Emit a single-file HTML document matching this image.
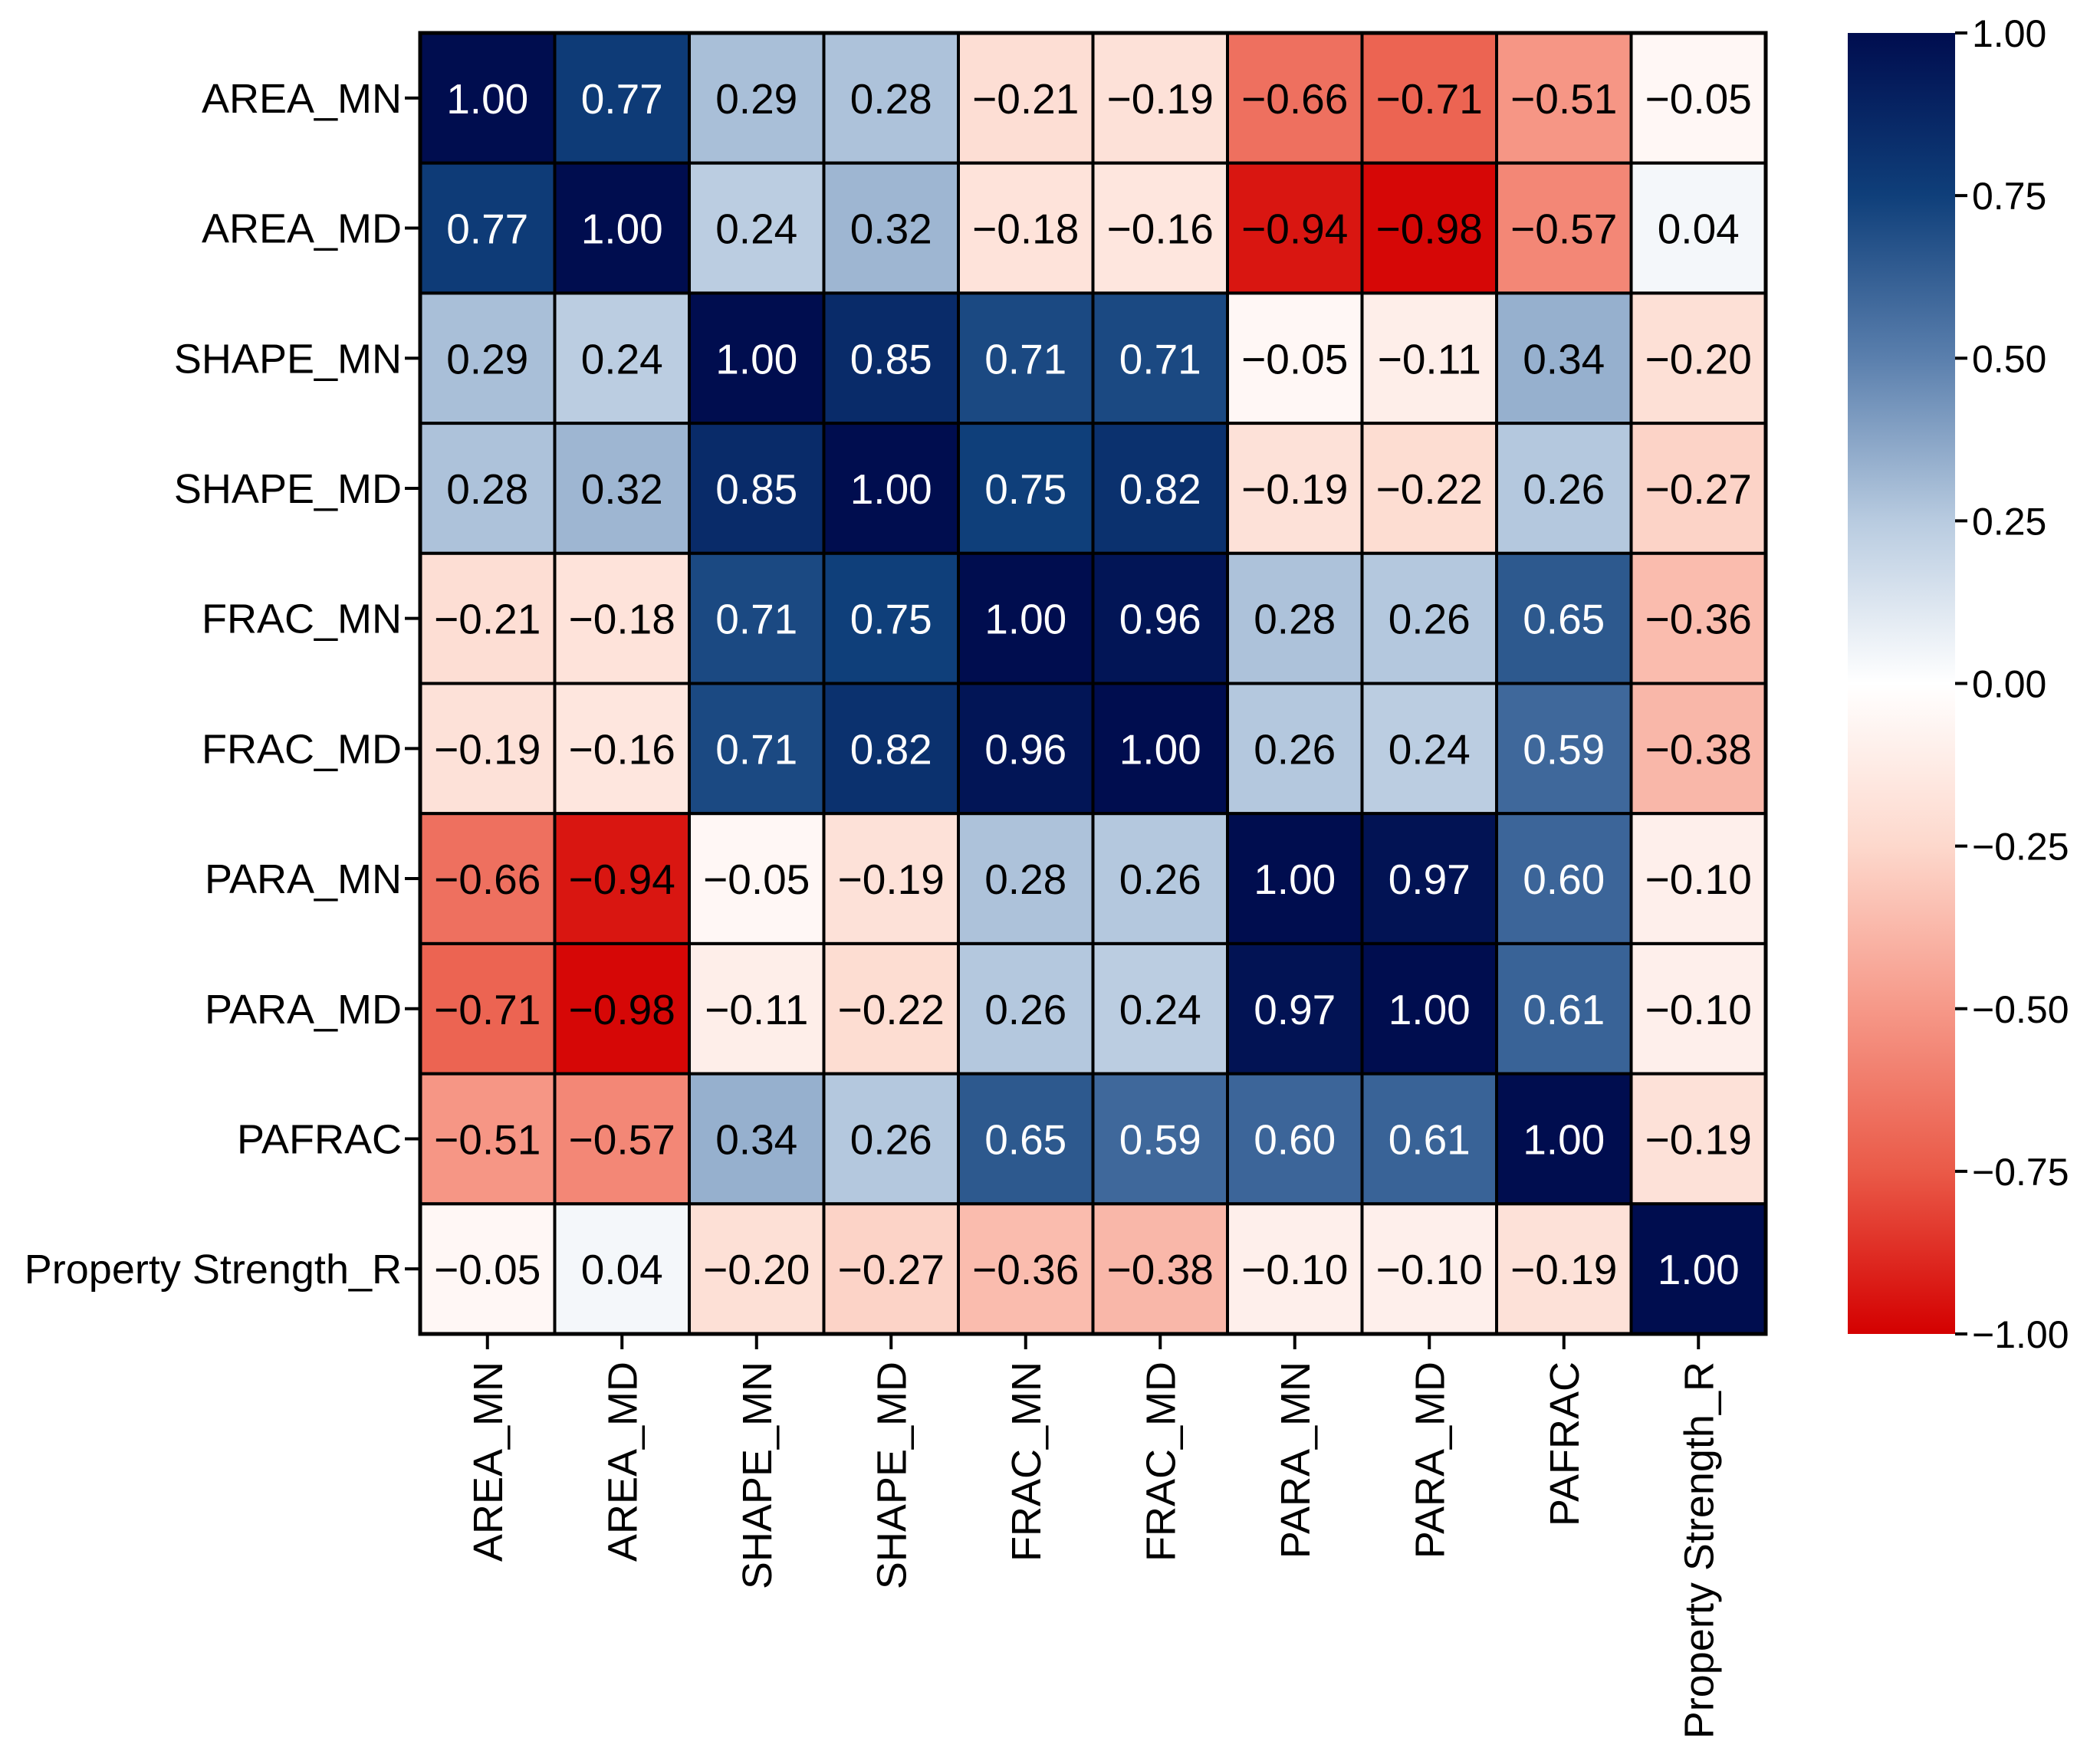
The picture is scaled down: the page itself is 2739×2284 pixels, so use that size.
<!DOCTYPE html>
<html><head><meta charset="utf-8">
<style>
html,body{margin:0;padding:0;background:#fff;}
svg{display:block;}
text{font-family:"Liberation Sans",sans-serif;}
</style></head>
<body>
<svg id="chart" width="2739" height="2284" viewBox="0 0 2739 2284" xmlns="http://www.w3.org/2000/svg">
<defs>
<linearGradient id="cbgrad" x1="0" y1="0" x2="0" y2="1">
<stop offset="0" stop-color="#000d4f"/>
<stop offset="0.125" stop-color="#0f3f7a"/>
<stop offset="0.25" stop-color="#5a7fad"/>
<stop offset="0.375" stop-color="#b8cbe0"/>
<stop offset="0.5" stop-color="#ffffff"/>
<stop offset="0.625" stop-color="#fdd8cc"/>
<stop offset="0.75" stop-color="#f69888"/>
<stop offset="0.875" stop-color="#ea5a48"/>
<stop offset="1" stop-color="#d40000"/>
</linearGradient>
</defs>
<g id="cells"></g>
<g id="labels"></g>
<g id="cbar"></g>
</svg>
<script>
const labels = ["AREA_MN","AREA_MD","SHAPE_MN","SHAPE_MD","FRAC_MN","FRAC_MD","PARA_MN","PARA_MD","PAFRAC","Property Strength_R"];
const xLabels = ["AREA_MN","AREA_MD","SHAPE_MN","SHAPE_MD","FRAC_MN","FRAC_MD","PARA_MN","PARA_MD","PAFRAC","Property Strength_R"];
const row0 = [1.00,0.77,0.29,0.28,-0.21,-0.19,-0.66,-0.71,-0.51,-0.05];
const row1 = [0.77,1.00,0.24,0.32,-0.18,-0.16,-0.94,-0.98,-0.57,0.04];
const row2 = [0.29,0.24,1.00,0.85,0.71,0.71,-0.05,-0.11,0.34,-0.20];
const row3 = [0.28,0.32,0.85,1.00,0.75,0.82,-0.19,-0.22,0.26,-0.27];
const row4 = [-0.21,-0.18,0.71,0.75,1.00,0.96,0.28,0.26,0.65,-0.36];
const row5 = [-0.19,-0.16,0.71,0.82,0.96,1.00,0.26,0.24,0.59,-0.38];
const row6 = [-0.66,-0.94,-0.05,-0.19,0.28,0.26,1.00,0.97,0.60,-0.10];
const row7 = [-0.71,-0.98,-0.11,-0.22,0.26,0.24,0.97,1.00,0.61,-0.10];
const row8 = [-0.51,-0.57,0.34,0.26,0.65,0.59,0.60,0.61,1.00,-0.19];
const row9 = [-0.05,0.04,-0.20,-0.27,-0.36,-0.38,-0.10,-0.10,-0.19,1.00];
const matrix = [row0,row1,row2,row3,row4,row5,row6,row7,row8,row9];
const cbTicks = [1.00,0.75,0.50,0.25,0.00,-0.25,-0.50,-0.75,-1.00];

const NS="http://www.w3.org/2000/svg";
const L=548,R=2303,T=43,B=1740;
const cw=(R-L)/labels.length, ch=(B-T)/labels.length;
const xPos=i=>L+i*cw, yPos=j=>T+j*ch;
const stops=[[-1,[212,0,0]],[-0.75,[234,90,72]],[-0.5,[246,152,136]],[-0.25,[253,216,204]],[0,[255,255,255]],[0.25,[184,203,224]],[0.5,[90,127,173]],[0.75,[15,63,122]],[1,[0,13,79]]];
function color(v){
  for(let k=0;k<stops.length-1;k++){
    const [a,ca]=stops[k],[b,cb]=stops[k+1];
    if(v>=a&&v<=b){const t=(v-a)/(b-a);return 'rgb('+ca.map((c,i)=>Math.round(c+(cb[i]-c)*t)).join(',')+')';}
  }
  return v<0?'rgb(212,0,0)':'rgb(0,13,79)';
}
function el(tag,attrs,parent,txt){const e=document.createElementNS(NS,tag);for(const k in attrs)e.setAttribute(k,attrs[k]);if(txt!==undefined)e.textContent=txt;parent.appendChild(e);return e;}
const fmt=v=>(v<0?'\u2212':'')+Math.abs(v).toFixed(2);
const cells=document.getElementById('cells'),lab=document.getElementById('labels'),cb=document.getElementById('cbar');
matrix.forEach((row,j)=>row.forEach((v,i)=>{
  const r=el('rect',{x:xPos(i),y:yPos(j),width:cw,height:ch,fill:color(v),stroke:'#000','stroke-width':4},cells);
  
  
  const t=el('text',{x:xPos(i)+cw/2,y:yPos(j)+ch/2+20,'text-anchor':'middle','font-size':55,fill:v>0.5?'#fff':'#000'},cells,fmt(v));
  
  
}));
const border=el('rect',{x:L,y:T,width:R-L,height:B-T,fill:'none',stroke:'#000','stroke-width':5},cells);


labels.forEach((s,j)=>{
  const y=yPos(j)+ch/2;
  el('line',{x1:L-20,x2:L,y1:y,y2:y,stroke:'#000','stroke-width':4},lab);
  const t=el('text',{x:L-24,y:y+19,'text-anchor':'end','font-size':54,fill:'#000'},lab,s);
  
  
});
xLabels.forEach((s,i)=>{
  const x=xPos(i)+cw/2;
  el('line',{x1:x,x2:x,y1:B,y2:B+20,stroke:'#000','stroke-width':4},lab);
  const t=el('text',{x:0,y:0,'text-anchor':'end','font-size':54,fill:'#000',transform:'translate('+(x+19)+','+(B+36)+') rotate(-90)'},lab,s);
  
  
});
const CL=2410,CR=2550;
const cy=v=>T+(1-v)/2*(B-T);
const bar=el('rect',{x:CL,y:T,width:CR-CL,height:B-T,fill:'url(#cbgrad)'},cb);


cbTicks.forEach(v=>{
  const y=cy(v);
  el('line',{x1:CR,x2:CR+16,y1:y,y2:y,stroke:'#000','stroke-width':4},cb);
  const t=el('text',{x:CR+22,y:y+18,'font-size':50,fill:'#000'},cb,fmt(v));
  
  
});
</script>
</body></html>
